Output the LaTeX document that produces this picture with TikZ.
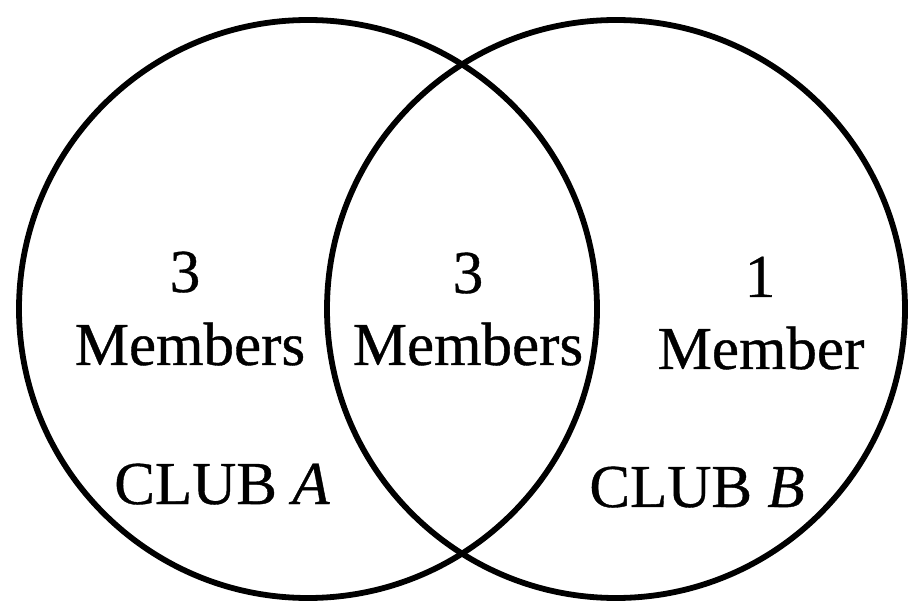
\documentclass[tikz,border=0pt]{standalone}
\usepackage{fontspec}
\setmainfont{Liberation Serif}[FakeBold=0.6,ItalicFeatures={FakeBold=0.6}]
\begin{document}
\begin{tikzpicture}[x=1pt,y=-1pt,
  ring/.style={draw=black,line width=5.8pt},
  lbl/.style={anchor=base,inner sep=0pt,font=\fontsize{61}{61}\selectfont}]
\useasboundingbox[fill=white] (0,0) rectangle (911,601);
\draw[ring] (308,309) circle[radius=289];
\draw[ring] (616,309) circle[radius=289];
\node[lbl] (n3a) at (185,292) {3};
\node[lbl] (ma) at (190,365) {Members};
\node[lbl] (n3b) at (468,293) {3};
\node[lbl] (mb) at (468,365) {Members};
\node[lbl] (n1) at (760,297) {1};
\node[lbl] (mc) at (761,369) {Member};
\node[lbl] (ca) at (222,504) {CLUB \textit{A}};
\node[lbl] (cb) at (697,507) {CLUB \textit{B}};
\end{tikzpicture}
\end{document}
